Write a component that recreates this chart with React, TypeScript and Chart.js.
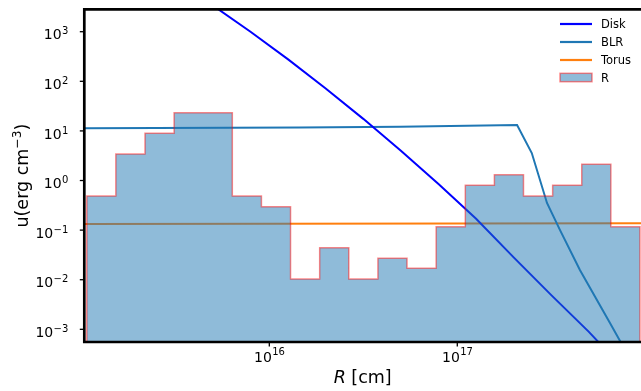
import React, { useEffect, useRef } from 'react';
import { Chart, registerables } from 'chart.js';

Chart.register(...registerables);

// ---- data ----
const diskR = [3.162e15, 5.012e15, 7.943e15, 1.259e16, 1.995e16, 3.162e16, 5.012e16, 7.943e16, 1.259e17, 1.995e17, 3.162e17, 5.012e17, 7.943e17];
const diskU = [1.064e4, 3373, 998, 277, 71.9, 17.5, 3.99, 0.849, 0.169, 0.0282, 0.0049, 8.9e-4, 1.38e-4];

const blrR = [1.0e15, 1.45e16, 4.95e16, 2.08e17, 2.49e17, 3.0e17, 3.52e17, 4.49e17, 6.49e17, 9.33e17];
const blrU = [11.3, 11.7, 12.2, 13.1, 3.58, 0.352, 0.1, 0.0157, 0.00134, 1.15e-4];

const torusR = [1.0e15, 1.0e18];
const torusU = [0.133, 0.138];

const histEdges = [
  1.069e15, 1.526e15, 2.181e15, 3.115e15, 4.449e15, 6.357e15, 9.08e15, 1.297e16, 1.853e16, 2.647e16,
  3.782e16, 5.403e16, 7.718e16, 1.103e17, 1.575e17, 2.25e17, 3.215e17, 4.592e17, 6.561e17, 9.372e17,
];
const histValues = [
  0.487, 3.42, 8.95, 23.3, 23.3, 0.487, 0.296, 0.0103, 0.0442, 0.0103,
  0.027, 0.017, 0.117, 0.8, 1.31, 0.487, 0.8, 2.12, 0.117,
];
const HIST_FLOOR = 1e-6;

const xTicks = [1e16, 1e17];
const yTicks = [1e-3, 1e-2, 1e-1, 1, 10, 100, 1000];

const X_MIN = 1.037e15;
const X_MAX = 9.49e17;
const Y_MIN = 5.55e-4;
const Y_MAX = 2830;

const seriesLabels = ['Disk', 'BLR', 'Torus', 'R'];

const FONT = '"DejaVu Sans", sans-serif';
const C_DISK = '#0000ff';
const C_BLR = '#1f77b4';
const C_TORUS = '#ff7f0e';
const C_HIST_FILL = 'rgba(31,119,180,0.5)';
const C_HIST_EDGE = 'rgba(255,0,0,0.45)';

const pts = (xs: number[], ys: number[]) => xs.map((x, i) => ({ x, y: ys[i] }));

function histPoints() {
  const out: { x: number; y: number }[] = [{ x: histEdges[0], y: HIST_FLOOR }];
  histValues.forEach((v, i) => out.push({ x: histEdges[i], y: v }));
  out.push({ x: histEdges[histEdges.length - 1], y: HIST_FLOOR });
  return out;
}

function expStr(v: number) {
  const e = Math.round(Math.log10(v));
  return (e < 0 ? '\u2212' : '') + Math.abs(e);
}

const LABEL_SIZE = 17.5;
const TICK_SIZE = 14;
const EXP_SIZE = 10;

const mplPlugin = {
  id: 'mplDecor',
  afterDraw(chart: any) {
    const ctx: CanvasRenderingContext2D = chart.ctx;
    const { left, right, top, bottom } = chart.chartArea;
    const xs = chart.scales.x;
    const ys = chart.scales.y;
    ctx.save();
    ctx.fillStyle = '#000';
    ctx.strokeStyle = '#000';

    // spines
    ctx.lineWidth = 2.7;
    ctx.lineCap = 'square';
    ctx.beginPath();
    ctx.moveTo(right + 2, top);
    ctx.lineTo(left, top);
    ctx.lineTo(left, bottom);
    ctx.lineTo(right + 2, bottom);
    ctx.stroke();

    // y ticks
    ctx.lineCap = 'butt';
    ctx.lineWidth = 1.3;
    ctx.textBaseline = 'alphabetic';
    ctx.textAlign = 'left';
    yTicks.forEach((v) => {
      const py = ys.getPixelForValue(v);
      ctx.beginPath();
      ctx.moveTo(left - 4.5, py);
      ctx.lineTo(left, py);
      ctx.stroke();
      const ex = expStr(v);
      ctx.font = `${TICK_SIZE}px ${FONT}`;
      const w10 = ctx.measureText('10').width;
      ctx.font = `${EXP_SIZE}px ${FONT}`;
      const we = ctx.measureText(ex).width;
      const x0 = 68 - (w10 + we);
      ctx.font = `${TICK_SIZE}px ${FONT}`;
      ctx.fillText('10', x0, py + 7.6);
      ctx.font = `${EXP_SIZE}px ${FONT}`;
      ctx.fillText(ex, x0 + w10 + 0.3, py + 2.6);
    });

    // x ticks
    xTicks.forEach((v) => {
      const px = xs.getPixelForValue(v);
      ctx.beginPath();
      ctx.moveTo(px, bottom);
      ctx.lineTo(px, bottom + 4.5);
      ctx.stroke();
      const ex = expStr(v);
      ctx.font = `${TICK_SIZE}px ${FONT}`;
      const w10 = ctx.measureText('10').width;
      ctx.font = `${EXP_SIZE}px ${FONT}`;
      const we = ctx.measureText(ex).width;
      const x0 = px - (w10 + we) / 2;
      ctx.font = `${TICK_SIZE}px ${FONT}`;
      ctx.fillText('10', x0, bottom + 19.7);
      ctx.font = `${EXP_SIZE}px ${FONT}`;
      ctx.fillText(ex, x0 + w10 + 0.3, bottom + 13);
    });

    // x label
    ctx.font = `italic ${LABEL_SIZE}px ${FONT}`;
    const wR = ctx.measureText('R').width;
    ctx.font = `${LABEL_SIZE}px ${FONT}`;
    const wRest = ctx.measureText(' [cm]').width;
    const cx = (left + right) / 2;
    const lx = cx - (wR + wRest) / 2;
    ctx.font = `italic ${LABEL_SIZE}px ${FONT}`;
    ctx.fillText('R', lx, 383);
    ctx.font = `${LABEL_SIZE}px ${FONT}`;
    ctx.fillText(' [cm]', lx + wR, 383);

    // y label
    ctx.save();
    ctx.translate(27.5, (top + bottom) / 2);
    ctx.rotate(-Math.PI / 2);
    const segs = [
      { t: 'u(erg cm', s: LABEL_SIZE, dy: 0 },
      { t: '\u22123', s: LABEL_SIZE * 0.7, dy: -6.8 },
      { t: ')', s: LABEL_SIZE, dy: 0 },
    ];
    let tot = 0;
    segs.forEach((sg) => {
      ctx.font = `${sg.s}px ${FONT}`;
      tot += ctx.measureText(sg.t).width;
    });
    let xx = -tot / 2;
    segs.forEach((sg) => {
      ctx.font = `${sg.s}px ${FONT}`;
      ctx.fillText(sg.t, xx, sg.dy);
      xx += ctx.measureText(sg.t).width;
    });
    ctx.restore();

    // legend
    const lx0 = 560;
    const lx1 = 592;
    const tx = 601;
    const rows = [24, 42, 60, 77.5];
    const colors = [C_DISK, C_BLR, C_TORUS];
    ctx.font = `11.5px ${FONT}`;
    seriesLabels.forEach((lab, i) => {
      const y = rows[i];
      if (i < 3) {
        ctx.strokeStyle = colors[i];
        ctx.lineWidth = 2.2;
        ctx.beginPath();
        ctx.moveTo(lx0, y);
        ctx.lineTo(lx1, y);
        ctx.stroke();
      } else {
        ctx.fillStyle = C_HIST_FILL;
        ctx.fillRect(lx0, y - 4.2, lx1 - lx0, 8.4);
        ctx.strokeStyle = C_HIST_EDGE;
        ctx.lineWidth = 1.5;
        ctx.strokeRect(lx0, y - 4.2, lx1 - lx0, 8.4);
      }
      ctx.fillStyle = '#000';
      ctx.fillText(lab, tx, y + 4.2);
    });

    ctx.restore();
  },
};

export default function App() {
  const ref = useRef<HTMLCanvasElement>(null);
  useEffect(() => {
    if (!ref.current) return;
    const chart = new Chart(ref.current, {
      type: 'line',
      data: {
        datasets: [
          {
            label: seriesLabels[0],
            data: pts(diskR, diskU),
            borderColor: C_DISK,
            borderWidth: 2,
            pointRadius: 0,
            fill: false,
            order: 1,
          },
          {
            label: seriesLabels[1],
            data: pts(blrR, blrU),
            borderColor: C_BLR,
            borderWidth: 2,
            pointRadius: 0,
            fill: false,
            order: 1,
          },
          {
            label: seriesLabels[2],
            data: pts(torusR, torusU),
            borderColor: C_TORUS,
            borderWidth: 2,
            pointRadius: 0,
            fill: false,
            order: 1,
          },
          {
            label: seriesLabels[3],
            data: histPoints(),
            stepped: 'before',
            borderColor: C_HIST_EDGE,
            backgroundColor: C_HIST_FILL,
            borderWidth: 1.5,
            borderJoinStyle: 'miter',
            pointRadius: 0,
            fill: 'start',
            order: 0,
          },
        ] as any,
      },
      options: {
        responsive: false,
        devicePixelRatio: 1,
        animation: false,
        events: [],
        layout: { padding: { left: 84.3, top: 9.3, right: 0, bottom: 49 } },
        plugins: { legend: { display: false }, tooltip: { enabled: false } },
        scales: {
          x: { type: 'logarithmic', min: X_MIN, max: X_MAX, display: false },
          y: { type: 'logarithmic', min: Y_MIN, max: Y_MAX, display: false },
        },
      } as any,
      plugins: [mplPlugin],
    });
    return () => chart.destroy();
  }, []);
  return (
    <div style={{ position: 'absolute', left: 0, top: 0, width: 641, height: 391, background: '#fff' }}>
      <canvas ref={ref} width={641} height={391} style={{ display: 'block', width: 641, height: 391 }} />
    </div>
  );
}
